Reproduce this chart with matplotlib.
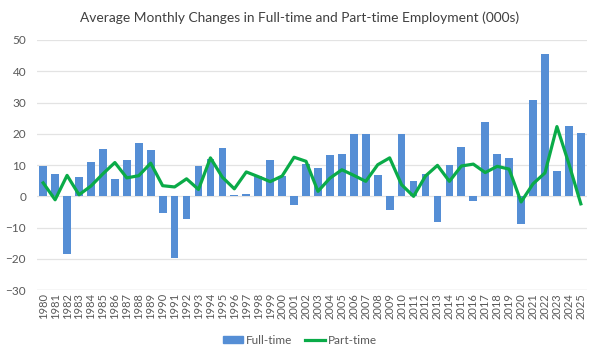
import matplotlib
matplotlib.use("Agg")
import matplotlib.pyplot as plt
from matplotlib.patches import Patch
from matplotlib.lines import Line2D

years = [str(y) for y in range(1980, 2026)]
full_time = [9.6, 7.1, -18.3, 6.1, 11.0, 15.2, 5.7, 11.7, 16.9, 14.7,
             -5.3, -19.7, -7.4, 9.6, 11.8, 15.3, 0.3, 0.8, 6.5, 11.7,
             6.5, -2.7, 10.4, 9.1, 13.3, 13.4, 20.0, 19.9, 6.7, -4.3,
             19.8, 4.8, 7.1, -8.2, 9.9, 15.9, -1.5, 23.7, 13.5, 12.4,
             -8.9, 30.9, 45.4, 8.2, 22.6, 20.1]
part_time = [4.3, -1.1, 6.7, 0.5, 3.3, 7.2, 10.8, 5.9, 6.6, 10.6,
             3.4, 3.0, 5.6, 2.2, 12.3, 6.1, 2.4, 7.8, 6.3, 4.7,
             6.5, 12.5, 11.2, 1.6, 5.8, 8.5, 6.7, 4.8, 10.1, 12.3,
             3.7, 0.0, 6.5, 9.9, 4.8, 9.7, 10.3, 7.6, 9.6, 8.7,
             -1.8, 4.0, 7.5, 22.3, 10.4, -2.4]

plt.rcParams['font.family'] = ['Lato', 'DejaVu Sans']
fig = plt.figure(figsize=(6, 3.6), dpi=100)
ax = fig.add_axes([0.062, 0.194, 0.916, 0.695])

x = list(range(len(years)))
bar_c = '#558ED5'
line_c = '#0AAB48'
ax.bar(x, full_time, width=0.65, color=bar_c, zorder=2)
ax.plot(x, part_time, color=line_c, linewidth=2.3, zorder=3)

ax.set_xlim(-0.5, len(years) - 0.5)
ax.set_ylim(-30, 50)
ax.set_yticks(range(-30, 51, 10))
ax.set_xticks(x)
ax.set_xticklabels(years, rotation=90, fontsize=8, color='#595959')
ax.tick_params(axis='y', labelsize=8.5, colors='#595959', length=0, pad=8)
ax.tick_params(axis='x', length=0, pad=2)
ax.grid(axis='y', color='#E3E3E3', linewidth=0.9, zorder=0)
ax.set_axisbelow(True)
for s in ax.spines.values():
    s.set_visible(False)
ax.axhline(-30, color='#D9D9D9', linewidth=0.9, zorder=1)

fig.text(0.5, 0.952, 'Average Monthly Changes in Full-time and Part-time Employment (000s)',
         ha='center', va='center', fontsize=9.9, color='#404040')

handles = [Patch(color=bar_c, label='Full-time'),
           Line2D([0], [0], color=line_c, linewidth=2.3, label='Part-time')]
fig.legend(handles=handles, loc='center', bbox_to_anchor=(0.5, 0.055), ncol=2,
           frameon=False, fontsize=8.5, labelcolor='#595959',
           handlelength=1.7, handleheight=0.6, columnspacing=1.1, handletextpad=0.2)

fig.savefig('out.png', dpi=100)
